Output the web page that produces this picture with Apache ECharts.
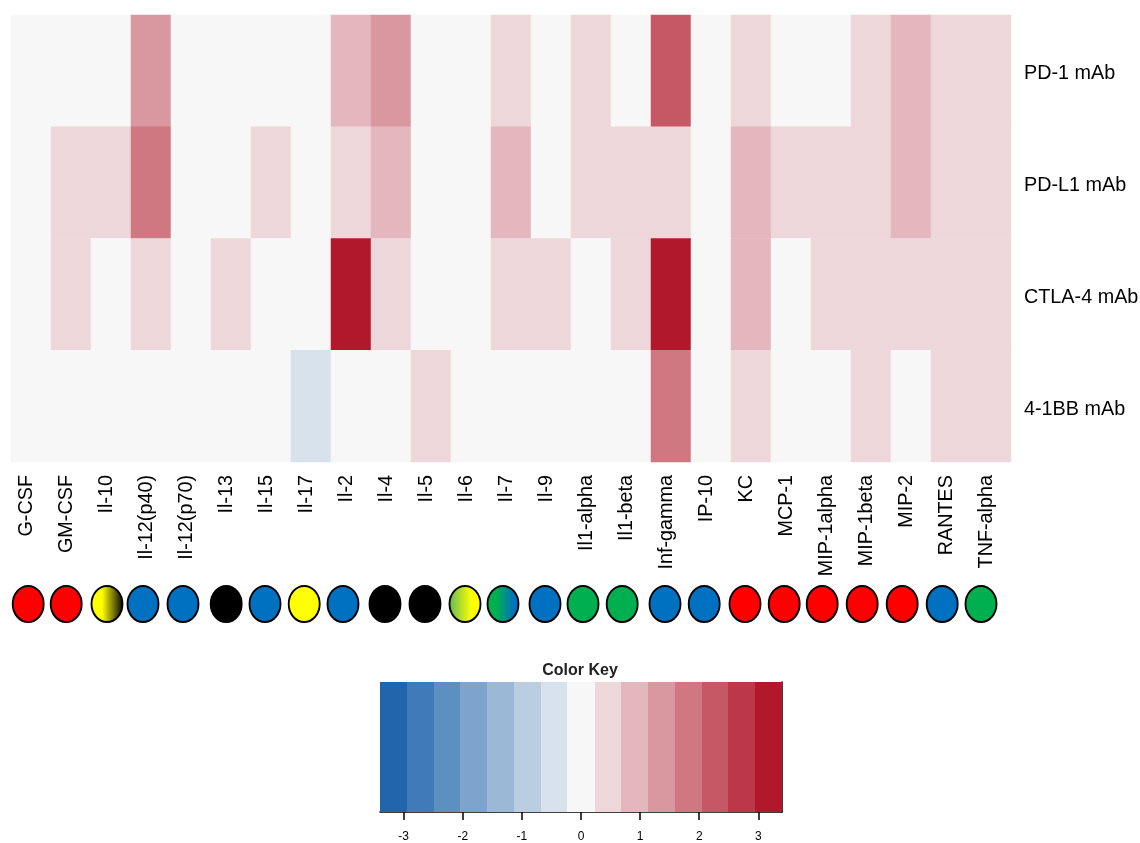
<!DOCTYPE html>
<html>
<head>
<meta charset="utf-8">
<style>html,body{margin:0;padding:0;background:#fff}#c{width:1140px;height:843px}</style>
<script src="https://cdn.jsdelivr.net/npm/echarts@6/dist/echarts.min.js"></script>
</head>
<body>
<div id="c"></div>
<script>
const cytokines = ["G-CSF","GM-CSF","Il-10","Il-12(p40)","Il-12(p70)","Il-13","Il-15","Il-17","Il-2","Il-4","Il-5","Il-6","Il-7","Il-9","Il1-alpha","Il1-beta","Inf-gamma","IP-10","KC","MCP-1","MIP-1alpha","MIP-1beta","MIP-2","RANTES","TNF-alpha"];
const treatments = ["PD-1 mAb","PD-L1 mAb","CTLA-4 mAb","4-1BB mAb"];
const pd1   = [0,0,0,1.36,0,0,0,0,0.91,1.36,0,0,0.45,0,0.45,0,2.27,0,0.45,0,0,0.45,0.91,0.45,0.45];
const pdl1  = [0,0.45,0.45,1.81,0,0,0.45,0,0.45,0.91,0,0,0.91,0,0.45,0.45,0.45,0,0.91,0.45,0.45,0.45,0.91,0.45,0.45];
const ctla4 = [0,0.45,0,0.45,0,0.45,0,0,3.17,0.45,0,0,0.45,0.45,0,0.45,3.17,0,0.91,0,0.45,0.45,0.45,0.45,0.45];
const bb41  = [0,0,0,0,0,0,0,-0.45,0,0,0.45,0,0,0,0,0,1.81,0,0.45,0,0,0.45,0,0.45,0.45];
const rows = [pd1, pdl1, ctla4, bb41];

const keyEdges = [-3.4,-2.95,-2.49,-2.04,-1.59,-1.13,-0.68,-0.23,0.23,0.68,1.13,1.59,2.04,2.49,2.95,3.4];
const keyColors = ["#2166AC","#407BB7","#5E8FC1","#7DA4CC","#9BB9D7","#BACDE1","#D8E2EC","#F7F7F7","#EDD7DA","#E3B7BD","#D997A0","#D07882","#C65865","#BC3848","#B2182B"];
const keyTicks = [-3,-2,-1,0,1,2,3];

const markerPos = [0.43,1.38,2.40,3.30,4.30,5.38,6.35,7.33,8.30,9.35,10.35,11.35,12.30,13.35,14.30,15.28,16.35,17.33,18.35,19.33,20.28,21.28,22.28,23.28,24.25];
const R="#FF0000",B="#0070C0",K="#000000",Y="#FFFF00",G="#00B050";
const markerFill = [[R],[R],[Y,K],[B],[B],[K],[B],[Y],[B],[K],[K],[G,Y],[G,B],[B],[G],[G],[B],[B],[R],[R],[R],[R],[R],[B],[G]];

const font = '"Liberation Sans", Arial, sans-serif';
const heatData = [];
rows.forEach((r, y) => r.forEach((v, x) => heatData.push([x, y, v])));

function fill(c){
  if (c.length === 1) return c[0];
  const span = c[1]===K ? [0.35,1] : c[1]===Y ? [-0.1,0.7] : [0.3,0.85];
  return {type:'linear',x:0,y:0,x2:1,y2:0,colorStops:[
    {offset:0,color:span[0]<0?'#5DB85A':c[0]},
    {offset:Math.max(span[0],0),color:span[0]<0?'#5DB85A':c[0]},
    {offset:span[1],color:c[1]},
    {offset:1,color:c[1]}]};
}

const option = {
  animation:false,
  backgroundColor:'#fff',
  title:{text:'Color Key',left:575,top:658,textAlign:'center',textStyle:{fontFamily:font,fontSize:16,fontWeight:'bold',color:'#222'}},
  grid:[
    {left:11,top:15,width:1000,height:447,outerBoundsMode:'none'},
    {left:11,top:584,width:1000,height:40,outerBoundsMode:'none'},
    {left:380,top:682,width:402,height:130,outerBoundsMode:'none'}
  ],
  xAxis:[
    {gridIndex:0,type:'category',data:cytokines,axisLine:{show:false},axisTick:{show:false},splitLine:{show:false},
     axisLabel:{rotate:90,interval:0,margin:13,verticalAlign:'bottom',lineHeight:8,fontFamily:font,fontSize:19.8,color:'#000'}},
    {gridIndex:1,type:'value',min:0,max:25,show:false},
    {gridIndex:2,type:'value',min:-3.4,max:3.4,interval:1,splitLine:{show:false},
     axisLine:{show:true,onZero:false,lineStyle:{color:'#000',width:1.5}},
     axisTick:{show:true,length:8,lineStyle:{color:'#000',width:1.5},customValues:keyTicks},
     axisLabel:{fontFamily:font,fontSize:12,color:'#000',margin:19,customValues:keyTicks}}
  ],
  yAxis:[
    {gridIndex:0,type:'category',data:treatments,inverse:true,position:'right',axisLine:{show:false},axisTick:{show:false},splitLine:{show:false},
     axisLabel:{margin:13,verticalAlign:'top',lineHeight:6,fontFamily:font,fontSize:19.8,color:'#000'}},
    {gridIndex:1,type:'value',min:0,max:1,show:false},
    {gridIndex:2,type:'value',min:0,max:1,position:'right',splitLine:{show:false},axisTick:{show:false},axisLabel:{show:false},
     axisLine:{show:true,onZero:false,lineStyle:{color:'#000',width:1.5}}}
  ],
  visualMap:{show:false,type:'piecewise',seriesIndex:0,dimension:2,
    pieces:keyColors.map((c,i)=>({gte:keyEdges[i],lt:keyEdges[i+1],color:c}))},
  series:[
    {type:'heatmap',xAxisIndex:0,yAxisIndex:0,data:heatData,itemStyle:{borderWidth:0},emphasis:{disabled:true},progressive:0},
    {type:'scatter',xAxisIndex:1,yAxisIndex:1,symbol:'circle',symbolSize:[31,36],silent:true,
     data:markerPos.map((p,i)=>({value:[p,0.5],itemStyle:{color:fill(markerFill[i]),borderColor:'#000',borderWidth:2,opacity:1}}))},
    {type:'custom',xAxisIndex:2,yAxisIndex:2,silent:true,clip:false,z:1,
     data:keyColors.map((c,i)=>[keyEdges[i],keyEdges[i+1],c]),
     encode:{x:[0,1]},
     renderItem:(p,api)=>{
       const a=api.coord([api.value(0),1]), b=api.coord([api.value(1),0]);
       const x0=Math.round(a[0]), x1=Math.round(b[0]);
       return {type:'rect',shape:{x:x0,y:a[1],width:x1-x0,height:b[1]-a[1]},style:{fill:keyColors[p.dataIndex]}};
     }}
  ]
};
const chart = echarts.init(document.getElementById('c'),null,{renderer:'canvas'});
chart.setOption(option);
</script>
</body>
</html>
